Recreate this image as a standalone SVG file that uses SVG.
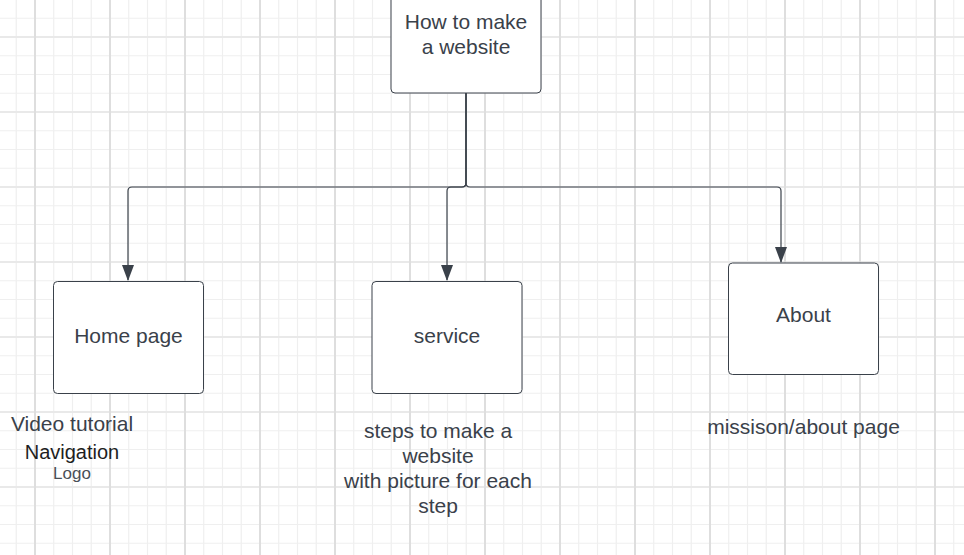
<svg xmlns="http://www.w3.org/2000/svg" width="964" height="555" viewBox="0 0 964 555">
<defs>
<style>
.minor{stroke:#efefef;stroke-width:1.2}
.major{stroke:#dedede;stroke-width:2}
.majorh{stroke:#e9e9e9;stroke-width:2}
.box{fill:#ffffff;stroke:#3a414a;stroke-width:1}
.t{font-family:"Liberation Sans",Arial,sans-serif;font-size:21px;fill:#3a414a;text-anchor:middle}
.conn{fill:none;stroke:#3a414a;stroke-width:1.2}
</style>
<marker id="arr" markerWidth="16" markerHeight="12" refX="15" refY="6" orient="auto" markerUnits="userSpaceOnUse" viewBox="0 0 16 12">
<path d="M0,0 L16,6 L0,12 Z" fill="#3a414a"/>
</marker>
</defs>
<rect width="964" height="555" fill="#ffffff"/>
<g id="grid">
<g id="minor-v">
<line class="minor" x1="16.25" y1="0" x2="16.25" y2="555"/><line class="minor" x1="53.75" y1="0" x2="53.75" y2="555"/><line class="minor" x1="72.5" y1="0" x2="72.5" y2="555"/><line class="minor" x1="91.25" y1="0" x2="91.25" y2="555"/>
<line class="minor" x1="128.75" y1="0" x2="128.75" y2="555"/><line class="minor" x1="147.5" y1="0" x2="147.5" y2="555"/><line class="minor" x1="166.25" y1="0" x2="166.25" y2="555"/>
<line class="minor" x1="203.75" y1="0" x2="203.75" y2="555"/><line class="minor" x1="222.5" y1="0" x2="222.5" y2="555"/><line class="minor" x1="241.25" y1="0" x2="241.25" y2="555"/>
<line class="minor" x1="278.75" y1="0" x2="278.75" y2="555"/><line class="minor" x1="297.5" y1="0" x2="297.5" y2="555"/><line class="minor" x1="316.25" y1="0" x2="316.25" y2="555"/>
<line class="minor" x1="353.75" y1="0" x2="353.75" y2="555"/><line class="minor" x1="372.5" y1="0" x2="372.5" y2="555"/><line class="minor" x1="391.25" y1="0" x2="391.25" y2="555"/>
<line class="minor" x1="428.75" y1="0" x2="428.75" y2="555"/><line class="minor" x1="447.5" y1="0" x2="447.5" y2="555"/><line class="minor" x1="466.25" y1="0" x2="466.25" y2="555"/>
<line class="minor" x1="503.75" y1="0" x2="503.75" y2="555"/><line class="minor" x1="522.5" y1="0" x2="522.5" y2="555"/><line class="minor" x1="541.25" y1="0" x2="541.25" y2="555"/>
<line class="minor" x1="578.75" y1="0" x2="578.75" y2="555"/><line class="minor" x1="597.5" y1="0" x2="597.5" y2="555"/><line class="minor" x1="616.25" y1="0" x2="616.25" y2="555"/>
<line class="minor" x1="653.75" y1="0" x2="653.75" y2="555"/><line class="minor" x1="672.5" y1="0" x2="672.5" y2="555"/><line class="minor" x1="691.25" y1="0" x2="691.25" y2="555"/>
<line class="minor" x1="728.75" y1="0" x2="728.75" y2="555"/><line class="minor" x1="747.5" y1="0" x2="747.5" y2="555"/><line class="minor" x1="766.25" y1="0" x2="766.25" y2="555"/>
<line class="minor" x1="803.75" y1="0" x2="803.75" y2="555"/><line class="minor" x1="822.5" y1="0" x2="822.5" y2="555"/><line class="minor" x1="841.25" y1="0" x2="841.25" y2="555"/>
<line class="minor" x1="878.75" y1="0" x2="878.75" y2="555"/><line class="minor" x1="897.5" y1="0" x2="897.5" y2="555"/><line class="minor" x1="916.25" y1="0" x2="916.25" y2="555"/>
<line class="minor" x1="953.75" y1="0" x2="953.75" y2="555"/>
</g>
<g id="minor-h">
<line class="minor" x1="0" y1="18.25" x2="964" y2="18.25"/><line class="minor" x1="0" y1="55.75" x2="964" y2="55.75"/><line class="minor" x1="0" y1="74.5" x2="964" y2="74.5"/><line class="minor" x1="0" y1="93.25" x2="964" y2="93.25"/>
<line class="minor" x1="0" y1="130.75" x2="964" y2="130.75"/><line class="minor" x1="0" y1="149.5" x2="964" y2="149.5"/><line class="minor" x1="0" y1="168.25" x2="964" y2="168.25"/>
<line class="minor" x1="0" y1="205.75" x2="964" y2="205.75"/><line class="minor" x1="0" y1="224.5" x2="964" y2="224.5"/><line class="minor" x1="0" y1="243.25" x2="964" y2="243.25"/>
<line class="minor" x1="0" y1="280.75" x2="964" y2="280.75"/><line class="minor" x1="0" y1="299.5" x2="964" y2="299.5"/><line class="minor" x1="0" y1="318.25" x2="964" y2="318.25"/>
<line class="minor" x1="0" y1="355.75" x2="964" y2="355.75"/><line class="minor" x1="0" y1="374.5" x2="964" y2="374.5"/><line class="minor" x1="0" y1="393.25" x2="964" y2="393.25"/>
<line class="minor" x1="0" y1="430.75" x2="964" y2="430.75"/><line class="minor" x1="0" y1="449.5" x2="964" y2="449.5"/><line class="minor" x1="0" y1="468.25" x2="964" y2="468.25"/>
<line class="minor" x1="0" y1="505.75" x2="964" y2="505.75"/><line class="minor" x1="0" y1="524.5" x2="964" y2="524.5"/><line class="minor" x1="0" y1="543.25" x2="964" y2="543.25"/>
</g>
<g id="major-h">
<line class="majorh" x1="0" y1="37" x2="964" y2="37"/><line class="majorh" x1="0" y1="112" x2="964" y2="112"/><line class="majorh" x1="0" y1="187" x2="964" y2="187"/><line class="majorh" x1="0" y1="262" x2="964" y2="262"/><line class="majorh" x1="0" y1="337" x2="964" y2="337"/><line class="majorh" x1="0" y1="412" x2="964" y2="412"/><line class="majorh" x1="0" y1="487" x2="964" y2="487"/>
</g>
<g id="major-v">
<line class="major" x1="35" y1="0" x2="35" y2="555"/><line class="major" x1="110" y1="0" x2="110" y2="555"/><line class="major" x1="185" y1="0" x2="185" y2="555"/><line class="major" x1="260" y1="0" x2="260" y2="555"/><line class="major" x1="335" y1="0" x2="335" y2="555"/><line class="major" x1="410" y1="0" x2="410" y2="555"/><line class="major" x1="485" y1="0" x2="485" y2="555"/><line class="major" x1="560" y1="0" x2="560" y2="555"/><line class="major" x1="635" y1="0" x2="635" y2="555"/><line class="major" x1="710" y1="0" x2="710" y2="555"/><line class="major" x1="785" y1="0" x2="785" y2="555"/><line class="major" x1="860" y1="0" x2="860" y2="555"/><line class="major" x1="935" y1="0" x2="935" y2="555"/>
</g>
</g>
<g id="connectors">
<path class="conn" d="M466,93 V183 Q466,187 462,187 H132 Q128,187 128,191 V280" marker-end="url(#arr)"/>
<path class="conn" d="M466,93 V183 Q466,187 462,187 H451 Q447,187 447,191 V280" marker-end="url(#arr)"/>
<path class="conn" d="M466,93 V183 Q466,187 470,187 H777 Q781,187 781,191 V262" marker-end="url(#arr)"/>
</g>
<g id="node-top">
<rect class="box" x="391" y="-19" width="150" height="112" rx="4"/>
<text class="t" x="466" y="29">How to make</text>
<text class="t" x="466" y="54">a website</text>
</g>
<g id="node-home">
<rect class="box" x="53.5" y="281.5" width="150" height="112" rx="4"/>
<text class="t" x="128.5" y="343">Home page</text>
</g>
<g id="node-service">
<rect class="box" x="372" y="281.5" width="150" height="112" rx="4"/>
<text class="t" x="447" y="343">service</text>
</g>
<g id="node-about">
<rect class="box" x="728.5" y="263" width="150" height="111.5" rx="4"/>
<text class="t" x="803.5" y="322">About</text>
</g>
<g id="label-home">
<text class="t" x="72" y="431">Video tutorial</text>
<text class="t" x="72" y="459" style="fill:#1e1e1e;font-size:20px">Navigation</text>
<text class="t" x="72" y="479" style="fill:#4a4f57;font-size:17px">Logo</text>
</g>
<g id="label-service">
<text class="t" x="438" y="438">steps to make a</text>
<text class="t" x="438" y="463">website</text>
<text class="t" x="438" y="488">with picture for each</text>
<text class="t" x="438" y="513">step</text>
</g>
<g id="label-about">
<text class="t" x="803.5" y="434">missison/about page</text>
</g>
</svg>
